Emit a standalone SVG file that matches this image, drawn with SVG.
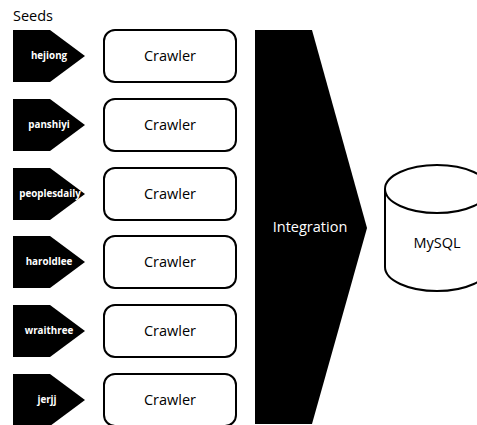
<svg xmlns="http://www.w3.org/2000/svg" width="477" height="425" viewBox="0 0 477 425">
<style>
.seed{fill:#000}
.seedt{fill:#fff;font-family:"Open Sans",sans-serif;font-weight:bold;font-size:9.8px;text-anchor:middle}
.box{fill:#fff;stroke:#000;stroke-width:2}
.t{font-family:"Open Sans",sans-serif;font-size:14.5px;text-anchor:middle;fill:#000}
</style>
<rect width="477" height="425" fill="#fff"/>
<text x="13" y="21" font-family="Open Sans, sans-serif" font-size="14.5">Seeds</text>
<g id="seed-hejiong"><path class="seed" d="M13,30H50L85,56L50,82H13Z"/><text class="seedt" x="49" y="59">hejiong</text></g>
<g id="seed-panshiyi"><path class="seed" d="M13,99H50L85,125L50,151H13Z"/><text class="seedt" x="49" y="128">panshiyi</text></g>
<g id="seed-peoplesdaily"><path class="seed" d="M13,168H50L85,194L50,220H13Z"/><text class="seedt" x="50" y="197" font-size="9.3">peoplesdaily</text></g>
<g id="seed-haroldlee"><path class="seed" d="M13,236H50L85,262L50,288H13Z"/><text class="seedt" x="49" y="265">haroldlee</text></g>
<g id="seed-wraithree"><path class="seed" d="M13,305H50L85,331L50,357H13Z"/><text class="seedt" x="49" y="334">wraithree</text></g>
<g id="seed-jerjj"><path class="seed" d="M13,374H50L85,400L50,426H13Z"/><text class="seedt" x="47" y="403">jerjj</text></g>
<g id="crawler1"><rect class="box" x="104" y="30" width="132" height="52" rx="11"/><text class="t" x="170" y="61">Crawler</text></g>
<g id="crawler2"><rect class="box" x="104" y="99" width="132" height="52" rx="11"/><text class="t" x="170" y="130">Crawler</text></g>
<g id="crawler3"><rect class="box" x="104" y="168" width="132" height="52" rx="11"/><text class="t" x="170" y="199">Crawler</text></g>
<g id="crawler4"><rect class="box" x="104" y="236" width="132" height="52" rx="11"/><text class="t" x="170" y="267">Crawler</text></g>
<g id="crawler5"><rect class="box" x="104" y="305" width="132" height="52" rx="11"/><text class="t" x="170" y="336">Crawler</text></g>
<g id="crawler6"><rect class="box" x="104" y="374" width="132" height="52" rx="11"/><text class="t" x="170" y="405">Crawler</text></g>
<g id="integration"><path d="M255,30H312L367,228L312,424H255Z" fill="#000"/><text class="t" x="310" y="232" style="fill:#fff">Integration</text></g>
<g id="mysql">
<path class="box" d="M385,189V267A52,24 0 0 0 489,267V189"/>
<ellipse class="box" cx="437" cy="189" rx="52" ry="24"/>
<text class="t" x="437" y="248">MySQL</text>
</g>
<g id="connectors"/>
</svg>
